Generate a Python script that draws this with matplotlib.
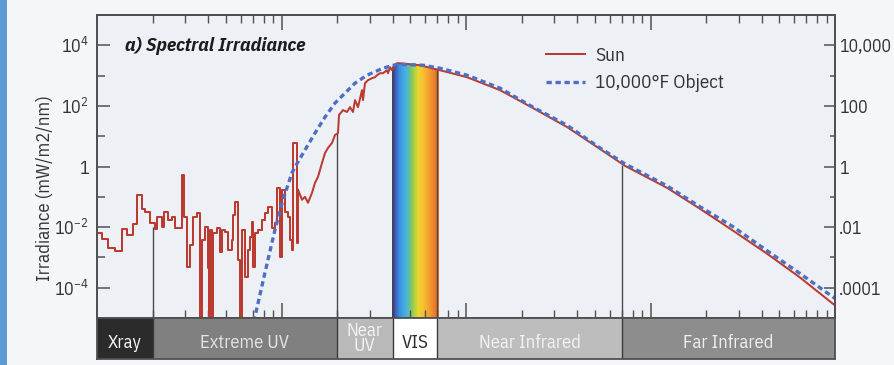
import numpy as np
import matplotlib
matplotlib.use("Agg")
import matplotlib.pyplot as plt
from matplotlib.colors import LinearSegmentedColormap
from matplotlib.patches import Polygon, Rectangle
from matplotlib.ticker import LogLocator, FixedLocator, FixedFormatter, NullFormatter, NullLocator

plt.rcParams['font.family'] = ['IBM Plex Sans Condensed', 'Liberation Sans', 'DejaVu Sans']
plt.rcParams['mathtext.default'] = 'regular'

# ---------------- data ----------------
# Sun, binned X-ray / EUV part: bin start wavelength (nm), irradiance (mW/m2/nm)
sun_bin_wl = [10.0, 10.64, 11.47, 12.52, 13.66, 14.54, 15.67, 16.48, 17.54, 18.20,
              19.38, 20.63, 21.14, 22.51, 23.07, 24.26, 25.50, 26.47, 28.88, 29.61,
              30.75, 31.92, 33.14, 34.83, 36.16, 37.08, 38.49, 39.96, 40.46, 40.97,
              42.02, 42.54, 44.71, 46.42, 47.60, 49.41, 51.29, 53.92, 54.59, 55.98,
              58.11, 59.58, 61.10, 63.43, 65.85, 67.51, 69.21, 70.09, 71.86, 74.6,
              78.38, 81.37, 84.47, 88.80, 92.19, 94.54, 98.15, 100.6, 104.5, 108.4,
              111.2, 114.0, 115.4, 121.3, 122.9]
sun_bin_irr = [6.5e-3, 4.2e-3, 2.1e-3, 1.67e-3, 8.9e-3, 5.6e-3, 1.3e-2, 0.116, 4.0e-2, 3.2e-2,
               1.4e-2, 8.9e-3, 2.2e-2, 1.03e-2, 3.2e-2, 1.75e-2, 2.2e-2, 9.5e-3, 0.53, 2.2e-2,
               5.0e-4, 2.64e-3, 2.2e-2, 3.0e-2, 1e-6, 3.85e-3, 1.03e-2, 4.6e-4, 1e-6, 8.2e-3,
               1e-6, 6.5e-3, 9.5e-3, 1.55e-3, 8.2e-3, 7.1e-3, 1.8e-3, 3.85e-3, 2.56e-2, 6.9e-2,
               8.5e-4, 1e-6, 8.2e-3, 2.2e-4, 1.8e-3, 4.8e-3, 1.5e-2, 5.0e-4, 6.5e-3, 8.2e-3,
               1.75e-2, 3.0e-2, 4.7e-2, 9.5e-3, 1.4e-2, 0.198, 1.06e-3, 0.170, 3.2e-2, 2.2e-2,
               3.85e-3, 1.8e-3, 5.97, 3.07e-3, 0.170]

# Sun, continuous part
sun_wl = [122.9, 129.2, 134.1, 139.2, 146.3, 151.9, 157.7, 165.8, 172.2, 178.6,
          187.8, 195.0, 202.4, 205.0, 215.4, 226.5, 235.1, 244.1, 250.3, 259.8,
          273.1, 276.5, 283.5, 294.3, 309.4, 321.2, 329.3, 341.9, 354.9, 373.1,
          377.8, 387.4, 397.2, 402.2, 422.7, 438.8, 563.4, 722.9, 1013, 1529,
          2307, 3527, 5325, 7276, 12290, 18550, 28010, 42800, 64620, 100000]
sun_irr = [0.170, 0.080, 0.100, 0.0635, 0.135, 0.289, 0.455, 1.31, 2.80, 4.09,
           5.97, 10.9, 12.7, 50, 73, 63, 91, 63, 155, 91,
           331, 155, 562, 706, 821, 886, 1031, 1199, 1199, 1505,
           1199, 1888, 1505, 1888, 2559, 2559, 2198, 1505, 886, 331,
           85, 20.1, 3.79, 1.05, 0.198, 0.0403, 0.00762, 0.00133, 2.17e-4, 2.6e-5]

# 10,000 F blackbody object
bb_wl = [67.51, 71.86, 81.37, 92.19, 101.9, 114.0, 118.4, 134.1, 151.9, 172.2,
         195.0, 220.9, 250.3, 290.7, 354.9, 422.7, 584.9, 722.9, 1013, 1529,
         2307, 3527, 5325, 7276, 12290, 18550, 28010, 42800, 64620, 100000]
bb_irr = [2.0e-6, 1.13e-5, 3.16e-4, 8.2e-3, 0.080, 0.62, 0.97, 3.51, 12.7, 43,
          124, 264, 562, 1031, 1750, 2371, 2198, 1750, 1031, 385,
          91, 23, 4.09, 1.22, 0.230, 0.0469, 0.0103, 0.00167, 2.93e-4, 4.42e-5]

# spectral bands
band_names = ['Xray', 'Extreme UV', 'Near\nUV', 'VIS', 'Near Infrared', 'Far Infrared']
band_lo = [10, 20, 200, 400, 700, 7000]
band_hi = [20, 200, 400, 700, 7000, 100000]
band_colors = ['#2b2b2b', '#808080', '#b9b9b9', '#ffffff', '#bdbdbd', '#8d8d8d']
band_text_colors = ['#f4f4f4', '#e4e4e4', '#f3f3f3', '#2a2a2a', '#f3f3f3', '#eeeeee']

# band boundary lines drawn up to the Sun curve
edge_wl = [20, 200, 400, 700, 7000]
edge_top = [1.03e-2, 13, 2500, 1550, 1.1]

# axis ticks
left_ticks = [1e-4, 1e-2, 1, 1e2, 1e4]
left_labels = [r'$\mathregular{10^{-4}}$', r'$\mathregular{10^{-2}}$', '1',
               r'$\mathregular{10^{2}}$', r'$\mathregular{10^{4}}$']
right_labels = ['.0001', '.01', '1', '100', '10,000']
minor_y = [1e-3, 1e-1, 10, 1e3]

# ---------------- figure ----------------
red = '#bb3b30'
blue = '#4f6fc4'
axis_col = '#505050'

fig = plt.figure(figsize=(8.95, 3.65), dpi=100, facecolor='#f4f6f9')
fig.patches.append(Rectangle((0, 0), 7 / 895, 1, transform=fig.transFigure,
                             facecolor='#5d9ad6', edgecolor='none', zorder=0))

ax = fig.add_axes([97 / 895, 1 - 318 / 365, 738 / 895, 303 / 365])
ax.set_facecolor('#edf1f6')
ax.set_xscale('log')
ax.set_yscale('log')
ax.set_xlim(10, 1e5)
ax.set_ylim(1e-5, 1e5)

# rainbow for the visible band, clipped below the Sun curve
rainbow = LinearSegmentedColormap.from_list('vis', [
    (0.00, '#3e2c7c'), (0.07, '#3a55b5'), (0.17, '#3a8fe0'), (0.32, '#46b3e3'),
    (0.42, '#72c27c'), (0.52, '#b5d23c'), (0.60, '#ead62e'), (0.72, '#f6bd31'),
    (0.86, '#f29a2f'), (1.00, '#e6742a')])
xs = np.geomspace(band_lo[3], band_hi[3], 121)
mesh = ax.pcolormesh(xs, [1e-5, 1e5], np.linspace(0, 1, 120)[None, :], cmap=rainbow,
                     shading='flat', zorder=1, antialiased=False, edgecolors='face')
sel = [(w, v) for w, v in zip(sun_wl, sun_irr) if 380 <= w <= 750]
clip = Polygon([(sel[0][0], 1e-6)] + sel + [(sel[-1][0], 1e-6)], closed=True,
               transform=ax.transData, facecolor='none', edgecolor='none')
ax.add_patch(clip)
mesh.set_clip_path(clip)

ax.vlines(edge_wl, 1e-5, edge_top, colors='#4a4a4a', lw=1.0, zorder=2)

ax.step(sun_bin_wl, sun_bin_irr, where='post', color=red, lw=1.45, zorder=3)
ax.plot(sun_wl, sun_irr, color=red, lw=1.45, zorder=3, label='Sun')
ax.plot(bb_wl, bb_irr, color=blue, lw=2.4, ls=(0, (1.6, 1.1)), zorder=4,
        label='10,000°F Object')

# ticks
ax.xaxis.set_major_locator(LogLocator(base=10, numticks=10))
ax.xaxis.set_minor_locator(LogLocator(base=10, subs=np.arange(2, 10), numticks=40))
ax.xaxis.set_minor_formatter(NullFormatter())
ax.tick_params(axis='x', which='both', direction='in', top=True, bottom=True,
               labelbottom=False, labeltop=False, color=axis_col)
ax.tick_params(axis='x', which='major', length=10.5, width=1.1)
ax.tick_params(axis='x', which='minor', length=5.5, width=1.0)

ax.yaxis.set_major_locator(FixedLocator(left_ticks))
ax.yaxis.set_major_formatter(FixedFormatter(left_labels))
ax.yaxis.set_minor_locator(FixedLocator(minor_y))
ax.yaxis.set_minor_formatter(NullFormatter())
ax.tick_params(axis='y', which='both', direction='in', left=True, right=False,
               color=axis_col, labelcolor='#333333')
ax.tick_params(axis='y', which='major', length=9.5, width=1.1, labelsize=13, pad=6)
ax.tick_params(axis='y', which='minor', length=5.8, width=1.1)

ax2 = ax.twinx()
ax2.set_yscale('log')
ax2.set_ylim(1e-5, 1e5)
ax2.yaxis.set_major_locator(FixedLocator(left_ticks))
ax2.yaxis.set_major_formatter(FixedFormatter(right_labels))
ax2.yaxis.set_minor_locator(FixedLocator(minor_y))
ax2.yaxis.set_minor_formatter(NullFormatter())
ax2.tick_params(axis='y', which='both', direction='in', color=axis_col, labelcolor='#333333')
ax2.tick_params(axis='y', which='major', length=8, width=1.1, labelsize=12.8, pad=3)
ax2.tick_params(axis='y', which='minor', length=3.8, width=1.1)

for a in (ax, ax2):
    for s in a.spines.values():
        s.set_color(axis_col)
        s.set_linewidth(1.3)

ax.text(0.038, 0.898, 'a) Spectral Irradiance', transform=ax.transAxes,
        fontsize=14, fontweight='bold', fontstyle='italic', va='center', ha='left',
        color='#1c1c1c')
fig.text(45 / 895, 1 - 188 / 365, 'Irradiance (mW/m2/nm)', rotation=90,
         ha='center', va='center', fontsize=13.5, color='#333333')

ax.legend(loc='upper left', bbox_to_anchor=(0.609, 0.895), frameon=False,
          handlelength=2.0, handletextpad=0.55, labelspacing=0.5,
          borderaxespad=0, borderpad=0, fontsize=13.8, labelcolor='#333333')

# ---------------- band bar ----------------
bx = fig.add_axes([97 / 895, 1 - 359 / 365, 738 / 895, 41 / 365])
bx.set_xscale('log')
bx.set_xlim(10, 1e5)
bx.set_ylim(0, 1)
for lo, hi, c, name, tc in zip(band_lo, band_hi, band_colors, band_names, band_text_colors):
    bx.axvspan(lo, hi, color=c, lw=0)
    bx.text(np.sqrt(lo * hi), 0.38 if '\n' not in name else 0.5, name, ha='center',
            va='center', fontsize=13.4, color=tc, linespacing=0.8)
bx.vlines(band_lo[1:], 0, 1, colors='#3a3a3a', lw=1.0)
bx.xaxis.set_major_locator(NullLocator())
bx.xaxis.set_minor_locator(NullLocator())
bx.yaxis.set_major_locator(NullLocator())
bx.yaxis.set_minor_locator(NullLocator())
for s in bx.spines.values():
    s.set_color(axis_col)
    s.set_linewidth(1.3)

fig.savefig('out.png', dpi=100, facecolor=fig.get_facecolor())
